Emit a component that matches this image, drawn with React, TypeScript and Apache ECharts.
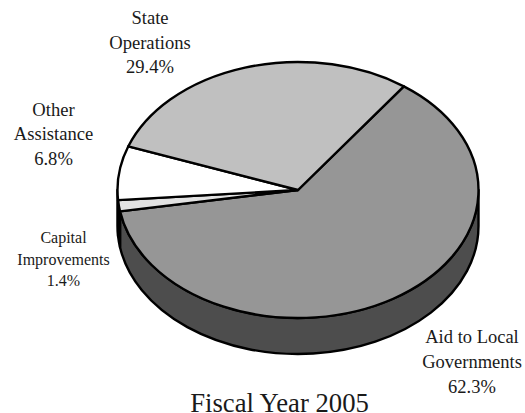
import React, { useEffect, useRef } from "react";
import * as echarts from "echarts";

// Budget shares for the fiscal year, clockwise from the upper right of the pie.
const categories = ["Aid to Local Governments", "Capital Improvements", "Other Assistance", "State Operations"];
const shares = [62.3, 1.4, 6.8, 29.4];
const labelLines = [
  ["Aid to Local", "Governments"],
  ["Capital", "Improvements"],
  ["Other", "Assistance"],
  ["State", "Operations"],
];
const chartTitle = "Fiscal Year 2005";

const sliceColors = ["#969696", "#e2e2e2", "#ffffff", "#c0c0c0"];
const wallColor = "#4d4d4d";
const labelBoxes = [
  { x: 472, y: 362, size: 18.5, lineHeight: 25 },
  { x: 63.5, y: 259, size: 16, lineHeight: 21.5 },
  { x: 53.5, y: 133.5, size: 18.6, lineHeight: 24.5 },
  { x: 150, y: 42, size: 18.6, lineHeight: 24.5 },
];

// Projected pie geometry: an ellipse with a short cylindrical wall below it.
const CX = 298;
const CY = 190;
const RX = 180.5;
const RY = 128;
const DEPTH = 36;
const START_DEG = 54.1;
const STROKE = 2.4;

const total = shares.reduce((a, b) => a + b, 0);

const px = (deg: number) => CX + RX * Math.cos((deg * Math.PI) / 180);
const py = (deg: number, drop = 0) => CY + drop - RY * Math.sin((deg * Math.PI) / 180);

// Angle range of a slice, running clockwise (decreasing) from its start.
function sliceRange(index: number): [number, number] {
  const before = shares.slice(0, index).reduce((a, b) => a + b, 0);
  const from = START_DEG - (before / total) * 360;
  return [from, from - (shares[index] / total) * 360];
}

function topPath(from: number, to: number) {
  const large = from - to > 180 ? 1 : 0;
  return `M ${CX} ${CY} L ${px(from)} ${py(from)} A ${RX} ${RY} 0 ${large} 1 ${px(to)} ${py(to)} Z`;
}

// Outer wall of a slice: only the part on the front half of the ellipse shows.
function wallPath(from: number, to: number) {
  const hi = Math.min(from, 0);
  const lo = Math.max(to, -180);
  if (hi <= lo) return "";
  return (
    `M ${px(hi)} ${py(hi)} L ${px(hi)} ${py(hi, DEPTH)} ` +
    `A ${RX} ${RY} 0 0 1 ${px(lo)} ${py(lo, DEPTH)} L ${px(lo)} ${py(lo)} ` +
    `A ${RX} ${RY} 0 0 0 ${px(hi)} ${py(hi)} Z`
  );
}

const FONT = '"Liberation Serif", "Times New Roman", serif';

export default function App() {
  const ref = useRef<HTMLDivElement>(null);

  useEffect(() => {
    document.body.style.margin = "0";
    const chart = echarts.init(ref.current!, null, { renderer: "svg" });
    const seriesData = shares.map((value, i) => ({ name: categories[i], value }));

    chart.setOption({
      animation: false,
      backgroundColor: "#ffffff",
      series: [
        {
          type: "custom",
          coordinateSystem: "none",
          silent: true,
          data: seriesData,
          z: 1,
          renderItem: (params: any) => {
            const [from, to] = sliceRange(params.dataIndex);
            const d = wallPath(from, to);
            if (!d) return { type: "group", children: [] };
            return {
              type: "path",
              shape: { pathData: d },
              style: { fill: wallColor, stroke: "#000", lineWidth: STROKE, lineJoin: "round" },
            };
          },
        },
        {
          type: "custom",
          coordinateSystem: "none",
          silent: true,
          data: seriesData,
          z: 2,
          renderItem: (params: any) => {
            const [from, to] = sliceRange(params.dataIndex);
            return {
              type: "path",
              shape: { pathData: topPath(from, to) },
              style: {
                fill: sliceColors[params.dataIndex],
                stroke: "#000",
                lineWidth: STROKE,
                lineJoin: "round",
              },
            };
          },
        },
      ],
      graphic: [
        ...labelLines.map((lines, i) => ({
          type: "text",
          x: labelBoxes[i].x,
          y: labelBoxes[i].y,
          z: 5,
          style: {
            text: [...lines, `${shares[i].toFixed(1)}%`].join("\n"),
            font: `${labelBoxes[i].size}px ${FONT}`,
            lineHeight: labelBoxes[i].lineHeight,
            fill: "#1a1a1a",
            align: "center",
            verticalAlign: "middle",
          },
        })),
        {
          type: "text",
          x: 279.5,
          y: 402.5,
          z: 5,
          style: {
            text: chartTitle,
            font: `26.7px ${FONT}`,
            lineHeight: 20,
            fill: "#1a1a1a",
            align: "center",
            verticalAlign: "middle",
          },
        },
      ],
    });

    return () => chart.dispose();
  }, []);

  return <div ref={ref} style={{ width: 525, height: 413 }} />;
}
